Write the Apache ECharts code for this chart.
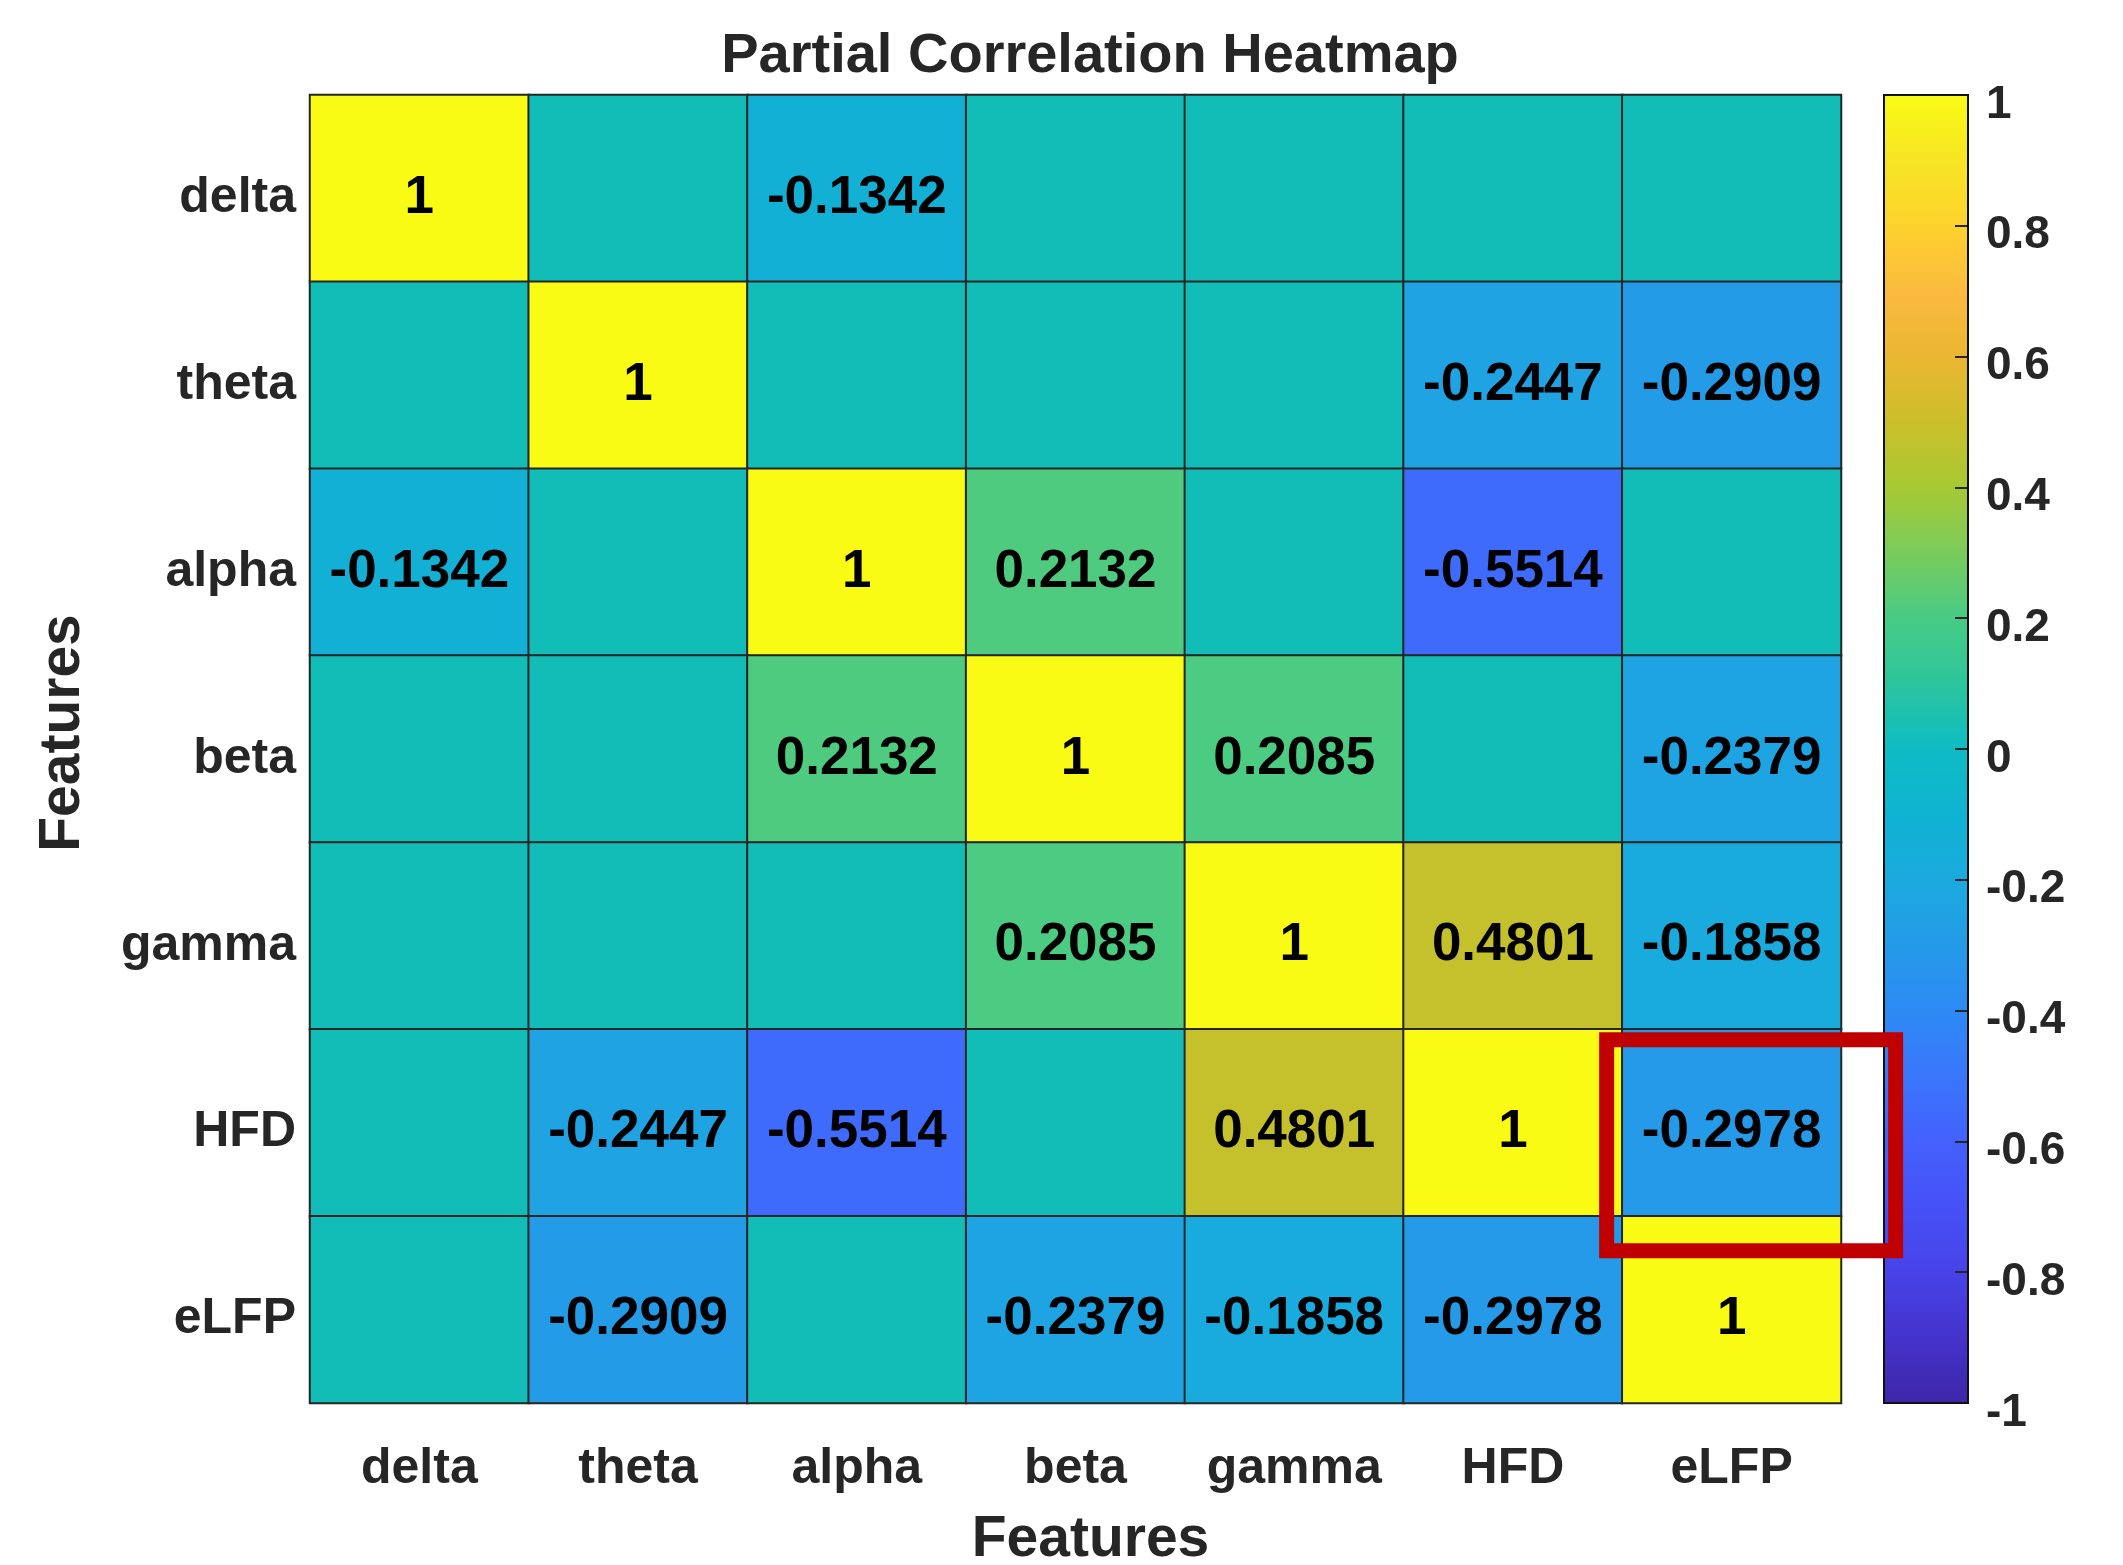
<!DOCTYPE html>
<html>
<head>
<meta charset="utf-8">
<title>Partial Correlation Heatmap</title>
<script src="https://cdn.jsdelivr.net/npm/echarts@6/dist/echarts.min.js"></script>
<style>
  html, body { margin: 0; padding: 0; background: #fff; }
  #chart { width: 2123px; height: 1565px; }
</style>
</head>
<body>
<div id="chart"></div>
<script>
// categories, same order on both axes
const features = ['delta', 'theta', 'alpha', 'beta', 'gamma', 'HFD', 'eLFP']

// one row per feature (0 = not shown)
const rowDelta = [1, 0, -0.1342, 0, 0, 0, 0]
const rowTheta = [0, 1, 0, 0, 0, -0.2447, -0.2909]
const rowAlpha = [-0.1342, 0, 1, 0.2132, 0, -0.5514, 0]
const rowBeta = [0, 0, 0.2132, 1, 0.2085, 0, -0.2379]
const rowGamma = [0, 0, 0, 0.2085, 1, 0.4801, -0.1858]
const rowHFD = [0, -0.2447, -0.5514, 0, 0.4801, 1, -0.2978]
const rowELFP = [0, -0.2909, 0, -0.2379, -0.1858, -0.2978, 1]

// colorbar range / ticks
const cbMin = -1
const cbMax = 1
const cbStep = 0.2

// highlighted cell (red frame)
const highlight = ['eLFP', 'HFD']

// parula-like colormap, evenly spaced from -1 to 1
const parula = [
  '#3e26a8', '#4433cc', '#4743e8', '#4651f7', '#4361fc', '#3a76fc', '#2d8af5',
  '#249ae8', '#1baadf', '#0fb3d2', '#0ebcc4', '#2cc59d', '#48cb85', '#7acb5c',
  '#a7c934', '#cbbf2a', '#ebb633', '#fcba3e', '#fdd22d', '#f7e524', '#f9fb15'
]

const FONT = '"Liberation Sans", Arial, sans-serif'
const TEXT = '#262626'
const plot = { left: 310, top: 95, width: 1531, height: 1308 }
const cbar = { left: 1884, top: 95, width: 84, height: 1308 }

const rows = [rowDelta, rowTheta, rowAlpha, rowBeta, rowGamma, rowHFD, rowELFP]
const cells = []
rows.forEach((row, y) => {
  row.forEach((v, x) => {
    cells.push([x, y, v])
  })
})

// the near-zero cells sit on the teal of the map
const cellColor = v => (v === 0 ? '#13bdb7' : null)

const chart = echarts.init(document.getElementById('chart'), null, { renderer: 'canvas' })

const option = {
  backgroundColor: '#fff',
  animation: false,
  textStyle: { fontFamily: FONT },
  title: {
    text: 'Partial Correlation Heatmap',
    left: 1085,
    top: 24,
    textAlign: 'center',
    textStyle: { fontSize: 56, fontWeight: 'bold', color: TEXT, fontFamily: FONT }
  },
  grid: [
    Object.assign({ show: true, borderColor: TEXT, borderWidth: 2, containLabel: false, outerBoundsMode: 'none' }, plot),
    Object.assign({ show: false, containLabel: false, outerBoundsMode: 'none' }, cbar)
  ],
  xAxis: [
    {
      gridIndex: 0,
      type: 'category',
      data: features,
      position: 'bottom',
      axisLine: { show: true, lineStyle: { color: TEXT, width: 2 } },
      axisTick: { show: false },
      splitArea: { show: false },
      axisLabel: { interval: 0, margin: 41, fontSize: 50, fontWeight: 'bold', color: TEXT, fontFamily: FONT },
      name: 'Features',
      nameLocation: 'middle',
      nameGap: 109,
      nameTextStyle: {
        fontSize: 57, fontWeight: 'bold', color: TEXT, fontFamily: FONT,
        verticalAlign: 'top', padding: [0, 0, 0, 30]
      }
    },
    {
      gridIndex: 1,
      type: 'category',
      show: false
    }
  ],
  yAxis: [
    {
      gridIndex: 0,
      type: 'category',
      data: features,
      inverse: true,
      axisLine: { show: true, lineStyle: { color: TEXT, width: 2 } },
      axisTick: { show: false },
      splitArea: { show: false },
      axisLabel: {
        interval: 0, margin: 14, fontSize: 50, fontWeight: 'bold', color: TEXT, fontFamily: FONT,
        verticalAlign: 'top', lineHeight: 20
      },
      name: 'Features',
      nameLocation: 'middle',
      nameGap: 218,
      nameRotate: 90,
      nameTextStyle: {
        fontSize: 57, fontWeight: 'bold', color: TEXT, fontFamily: FONT,
        padding: [0, 0, 0, 32]
      }
    },
    {
      gridIndex: 1,
      type: 'value',
      min: cbMin,
      max: cbMax,
      interval: cbStep,
      position: 'right',
      z: 10,
      axisLine: { show: false },
      splitLine: { show: false },
      axisTick: { show: true, inside: true, length: 13, lineStyle: { color: TEXT, width: 2 } },
      axisLabel: {
        margin: 18, fontSize: 46, fontWeight: 'bold', color: TEXT, fontFamily: FONT,
        verticalAlign: 'top', lineHeight: 20, hideOverlap: false
      }
    }
  ],
  visualMap: {
    type: 'continuous',
    seriesIndex: 0,
    min: cbMin,
    max: cbMax,
    calculable: false,
    orient: 'vertical',
    left: cbar.left,
    top: cbar.top,
    itemWidth: cbar.width,
    itemHeight: cbar.height,
    padding: 0,
    text: null,
    showLabel: false,
    inRange: { color: parula }
  },
  series: [
    {
      type: 'heatmap',
      xAxisIndex: 0,
      yAxisIndex: 0,
      data: cells.map(d => {
        const col = cellColor(d[2])
        return col ? { value: d, itemStyle: { color: col } } : d
      }),
      itemStyle: { borderColor: TEXT, borderWidth: 2 },
      emphasis: { disabled: true },
      label: {
        show: true,
        fontSize: 53,
        fontWeight: 'bold',
        color: '#000',
        fontFamily: FONT,
        offset: [0, 10],
        formatter: p => (p.value[2] === 0 ? '' : String(p.value[2]))
      }
    }
  ]
}

chart.setOption(option)

// colorbar frame + red highlight frame
const c = chart.convertToPixel({ xAxisIndex: 0, yAxisIndex: 0 }, highlight)
chart.setOption({
  graphic: [
    {
      type: 'rect',
      z: 100,
      shape: { x: cbar.left, y: cbar.top, width: cbar.width, height: cbar.height },
      style: { fill: null, stroke: '#111', lineWidth: 2 }
    },
    {
      type: 'rect',
      z: 100,
      shape: { x: c[0] - 125, y: c[1] - 83, width: 289, height: 211 },
      style: { fill: null, stroke: '#c00000', lineWidth: 15 }
    }
  ]
})
</script>
</body>
</html>
